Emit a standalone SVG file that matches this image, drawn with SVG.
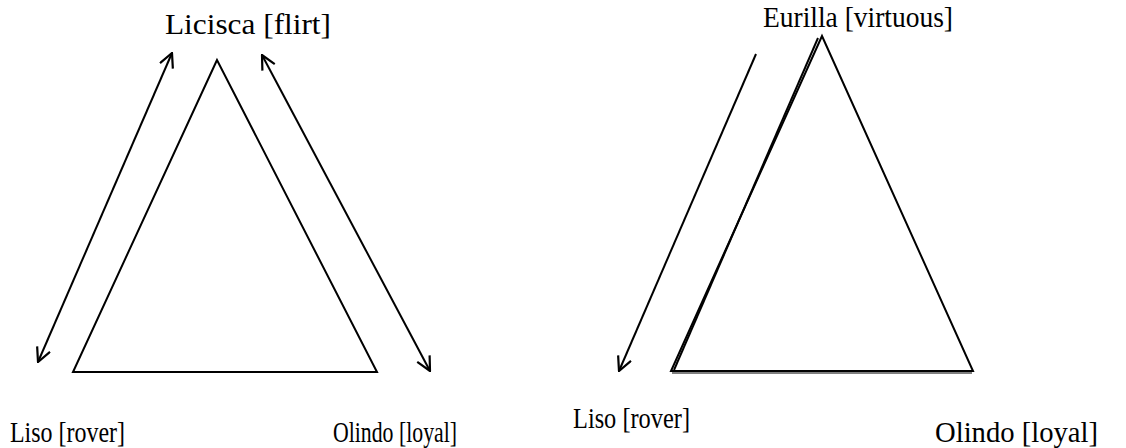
<svg xmlns="http://www.w3.org/2000/svg" width="1126" height="448" viewBox="0 0 1126 448">
<style>
text{font-family:"Liberation Serif","Times New Roman",serif;font-size:30px;fill:#000}
.s{fill:none;stroke:#000;stroke-width:2}
</style>
<defs>
<marker id="ah" viewBox="0 0 16 16" refX="15" refY="8" markerWidth="16" markerHeight="16" markerUnits="userSpaceOnUse" orient="auto-start-reverse">
<path d="M1,1 L15,8 L1,15" fill="none" stroke="#000" stroke-width="2.2"/>
</marker>
</defs>
<rect width="1126" height="448" fill="#fff"/>
<g id="left-triangle"><polygon class="s" points="217,60 73,372 377,372"/></g>
<g id="right-triangle">
<polygon class="s" points="822,36 671,371 973,371"/>
<line class="s" x1="818" y1="38" x2="674" y2="370" stroke-width="1.5"/>
<line x1="672" y1="373" x2="972" y2="373" stroke="#555" stroke-width="1.5"/>
</g>
<g id="connectors">
<line class="s" x1="172" y1="53" x2="38" y2="362" marker-start="url(#ah)" marker-end="url(#ah)"/>
<line class="s" x1="262" y1="55" x2="430" y2="371" marker-start="url(#ah)" marker-end="url(#ah)"/>
<line class="s" x1="756" y1="54" x2="619" y2="371" marker-end="url(#ah)"/>
</g>
<g id="licisca"><text x="165" y="34" textLength="166" lengthAdjust="spacingAndGlyphs">Licisca [flirt]</text></g>
<g id="liso-left"><text x="10" y="442" textLength="115" lengthAdjust="spacingAndGlyphs">Liso [rover]</text></g>
<g id="olindo-left"><text x="333" y="442" textLength="124" lengthAdjust="spacingAndGlyphs">Olindo [loyal]</text></g>
<g id="eurilla"><text x="763" y="27" textLength="190" lengthAdjust="spacingAndGlyphs">Eurilla [virtuous]</text></g>
<g id="liso-right"><text x="573" y="428" textLength="117" lengthAdjust="spacingAndGlyphs">Liso [rover]</text></g>
<g id="olindo-right"><text x="935" y="442" textLength="163" lengthAdjust="spacingAndGlyphs">Olindo [loyal]</text></g>
</svg>
